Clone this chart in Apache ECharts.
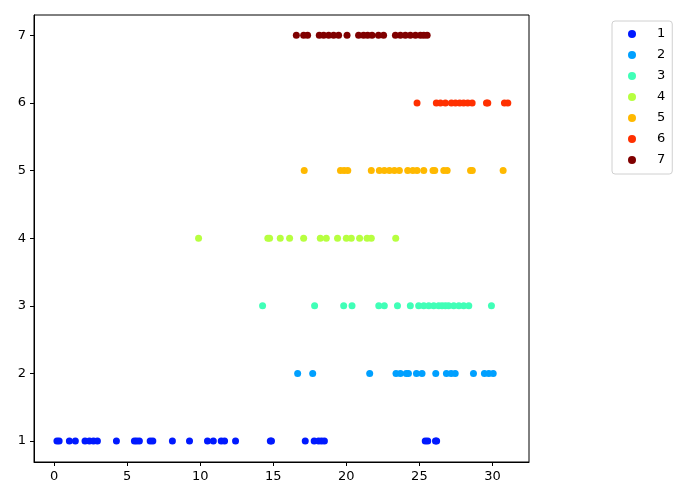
<!DOCTYPE html>
<html>
<head>
<meta charset="utf-8">
<script src="https://cdn.jsdelivr.net/npm/echarts@6/dist/echarts.min.js"></script>
<style>
html, body { margin: 0; padding: 0; background: #fff; }
#chart { width: 700px; height: 500px; }
</style>
</head>
<body>
<div id="chart"></div>
<script>
// x values per group, y is the group number
const group1 = [0.2, 0.35, 1.05, 1.46, 2.12, 2.42, 2.7, 2.97, 4.27, 5.5, 5.66, 5.84, 6.58, 6.76,
  8.1, 9.27, 10.5, 10.9, 11.44, 11.67, 12.42, 14.8, 14.88, 17.19, 17.8, 18.1, 18.3, 18.5,
  25.4, 25.57, 26.1, 26.18];
const group2 = [16.67, 17.7, 21.6, 23.4, 23.7, 24.1, 24.25, 24.8, 25.18, 26.12, 26.85, 27.17,
  27.45, 28.7, 29.45, 29.75, 30.05];
const group3 = [14.27, 17.83, 19.82, 20.39, 22.22, 22.6, 23.5, 24.38, 24.95, 25.3, 25.64, 25.98,
  26.32, 26.55, 26.78, 27.0, 27.35, 27.7, 28.03, 28.38, 29.93];
const group4 = [9.89, 14.63, 14.75, 15.48, 16.12, 17.08, 18.22, 18.63, 19.4, 20.0, 20.34, 20.91,
  21.42, 21.71, 23.38];
const group5 = [17.12, 19.6, 19.85, 20.1, 21.71, 22.26, 22.6, 22.95, 23.29, 23.63, 24.2, 24.55,
  24.84, 25.3, 25.93, 26.05, 26.67, 26.9, 28.5, 28.62, 30.73];
const group6 = [24.84, 26.16, 26.44, 26.78, 27.19, 27.47, 27.76, 28.03, 28.31, 28.61, 29.59,
  29.68, 30.82, 31.05];
const group7 = [16.58, 17.08, 17.35, 18.15, 18.45, 18.79, 19.13, 19.47, 20.05, 20.84, 21.18,
  21.46, 21.76, 22.2, 22.55, 23.36, 23.7, 24.04, 24.38, 24.73, 25.07, 25.3, 25.53];

const groups = [group1, group2, group3, group4, group5, group6, group7];
const names = ['1', '2', '3', '4', '5', '6', '7'];
const colors = ['#0019ff', '#00a0ff', '#40ffb7', '#b7ff40', '#ffb900', '#ff3000', '#800000'];
const xTicks = [0, 5, 10, 15, 20, 25, 30];
const yTicks = [1, 2, 3, 4, 5, 6, 7];

const font = 'DejaVu Sans';
const axisCommon = {
  axisLine: { show: true, onZero: false, lineStyle: { color: '#000', width: 1 } },
  axisTick: { show: true, inside: false, length: 4, lineStyle: { color: '#000' } },
  axisLabel: { color: '#000', fontFamily: font, fontSize: 13 },
  splitLine: { show: false }
};

let chart = echarts.init(document.getElementById('chart'));
let option = {
  animation: false,
  backgroundColor: '#fff',
  grid: {
    left: 34, right: 171, top: 15, bottom: 38,
    show: true, borderColor: '#000', borderWidth: 1
  },
  xAxis: {
    type: 'value', min: -1.37, max: 32.5,
    ...axisCommon,
    axisTick: { ...axisCommon.axisTick, customValues: xTicks },
    axisLabel: { ...axisCommon.axisLabel, customValues: xTicks, margin: 8 }
  },
  yAxis: {
    type: 'value', min: 0.69, max: 7.3,
    ...axisCommon,
    axisTick: { ...axisCommon.axisTick, customValues: yTicks },
    axisLabel: { ...axisCommon.axisLabel, customValues: yTicks, margin: 8 }
  },
  legend: {
    orient: 'vertical',
    left: 612, top: 21,
    padding: [6, 7, 7, 16],
    itemWidth: 8, itemHeight: 8,
    itemGap: 7,
    icon: 'circle',
    borderColor: '#d0d0d0', borderWidth: 1, borderRadius: 3,
    textStyle: { fontFamily: font, fontSize: 13, color: '#000', lineHeight: 14, padding: [0, 0, 0, 16] },
    data: names
  },
  series: groups.map((g, i) => ({
    name: names[i],
    type: 'scatter',
    symbolSize: 7,
    itemStyle: { color: colors[i], opacity: 1 },
    data: g.map(x => [x, i + 1])
  }))
};
chart.setOption(option);
</script>
</body>
</html>
